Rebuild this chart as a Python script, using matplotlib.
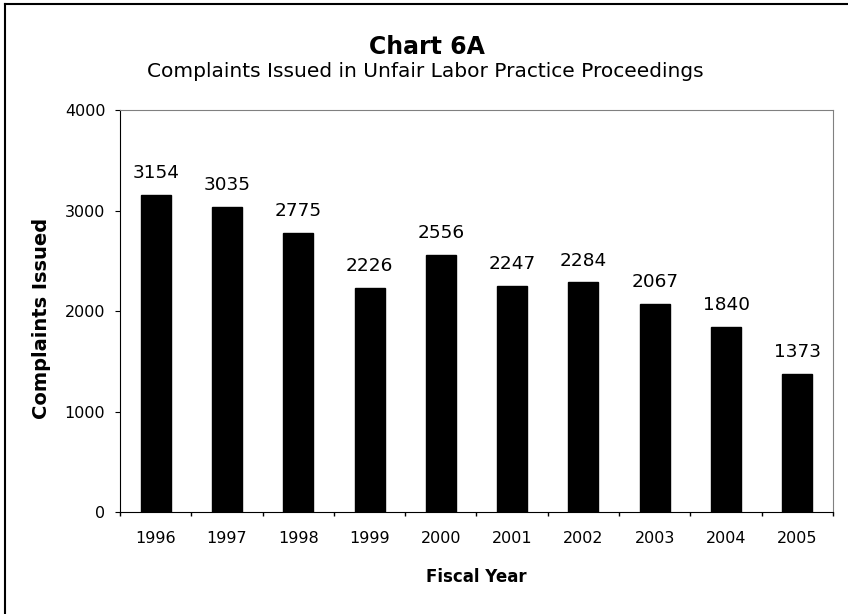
import matplotlib.pyplot as plt
import numpy as np
from matplotlib.lines import Line2D

plt.rcParams['font.family'] = ['DejaVu Sans']

years = ['1996', '1997', '1998', '1999', '2000', '2001', '2002', '2003', '2004', '2005']
complaints = [3154, 3035, 2775, 2226, 2556, 2247, 2284, 2067, 1840, 1373]

fig = plt.figure(figsize=(8.48, 6.14), dpi=100)
ax = fig.add_axes([0.1415, 0.1661, 0.8408, 0.6547])

x = np.arange(len(years))
ax.bar(x, complaints, width=0.42, color='black', edgecolor='black')

for xi, v in zip(x, complaints):
    ax.annotate(str(v), (xi, v), xytext=(0, 12.2), textcoords='offset points',
                ha='center', va='baseline', fontsize=13.3)

ax.set_xlim(-0.5, len(years) - 0.5)
ax.set_ylim(0, 4000)
ax.set_yticks(range(0, 4001, 1000))
ax.set_xticks(x)
ax.set_xticklabels(years)
ax.set_xticks(np.arange(-0.5, len(years)), minor=True)
ax.tick_params(axis='x', which='major', length=0, labelsize=11.5, pad=14)
ax.tick_params(axis='x', which='minor', length=3, direction='out', width=1)
ax.tick_params(axis='y', length=3.6, direction='out', labelsize=11.5, pad=7)

for side in ['top', 'right']:
    ax.spines[side].set_color('#808080')
for side in ['left', 'bottom']:
    ax.spines[side].set_color('black')

ax.set_xlabel('Fiscal Year', fontsize=12, fontweight='bold', va='baseline')
ax.xaxis.set_label_coords(0.5, -0.174)
ax.set_ylabel('Complaints Issued', fontsize=14, fontweight='bold', va='center')
ax.yaxis.set_label_coords(-0.1094, 0.4826)

fig.text(0.504, 0.912, 'Chart 6A', ha='center', va='baseline', fontsize=17, fontweight='bold')
fig.text(0.502, 0.8746, 'Complaints Issued in Unfair Labor Practice Proceedings',
         ha='center', va='baseline', fontsize=14.5)

# frame around the chart (left and top edges)
fig.add_artist(Line2D([0.006, 0.006], [0, 0.993], transform=fig.transFigure, color='black', lw=1.5))
fig.add_artist(Line2D([0.006, 1], [0.993, 0.993], transform=fig.transFigure, color='black', lw=1.5))

fig.savefig('out.png', dpi=100)
